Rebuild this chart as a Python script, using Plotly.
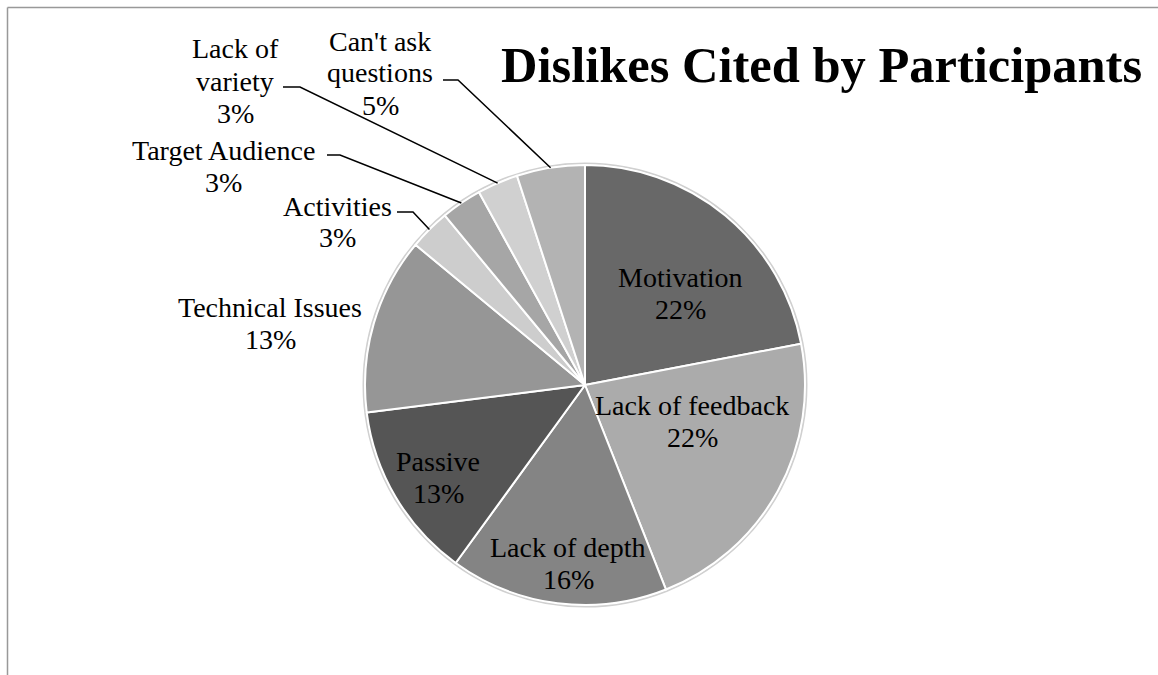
import math
import plotly.graph_objects as go

# ---- data ----
categories = ["Motivation", "Lack of feedback", "Lack of depth", "Passive",
              "Technical Issues", "Activities", "Target Audience",
              "Lack of variety", "Can't ask questions"]
values = [22, 22, 16, 13, 13, 3, 3, 3, 5]
colors = ["#686868", "#ababab", "#848484", "#555555", "#969696",
          "#cdcdcd", "#a6a6a6", "#d0d0d0", "#b3b3b3"]
wrapped = {"Lack of variety": ["Lack of", "variety"],
           "Can't ask questions": ["Can't ask", "questions"]}

W, H = 1158, 675
FONT = "Liberation Serif"
LABEL_SIZE = 28
LINE_GAP = 32

# pie geometry (pixels)
CX, CY, R = 585, 385, 220

def px2paper(x, y):
    return x / W, 1 - y / H

total = sum(values)

fig = go.Figure(go.Pie(
    labels=categories, values=values, sort=False, direction="clockwise",
    rotation=0,
    marker=dict(colors=colors, line=dict(color="white", width=2)),
    textinfo="none",
    hoverinfo="label+percent", showlegend=False,
    domain=dict(x=[(CX - R) / W, (CX + R) / W],
                y=[1 - (CY + R) / H, 1 - (CY - R) / H]),
))

# label layout (pixel positions of label block centre and optional leader elbow)
label_pos = {
    "Motivation": dict(tx=680, ty=293, elbow=None),
    "Lack of feedback": dict(tx=692, ty=421, elbow=None),
    "Lack of depth": dict(tx=568, ty=563, elbow=None),
    "Passive": dict(tx=438, ty=477, elbow=None),
    "Technical Issues": dict(tx=270, ty=323, elbow=None),
    "Activities": dict(tx=337, ty=222, elbow=(397, 413, 212)),
    "Target Audience": dict(tx=223, ty=166, elbow=(327, 340, 155)),
    "Lack of variety": dict(tx=235, ty=81, elbow=(283, 300, 87)),
    "Can't ask questions": dict(tx=380, ty=73, elbow=(443, 458, 80)),
}

annotations = []
shapes = []
cum = 0
for cat, v in zip(categories, values):
    mid = (cum + v / 2) / total * 2 * math.pi
    cum += v
    p = label_pos[cat]
    lines = wrapped.get(cat, [cat]) + [f"{v / total:.0%}"]
    n = len(lines)
    for i, line in enumerate(lines):
        ly = p["ty"] + (i - (n - 1) / 2) * LINE_GAP
        ax, ay = px2paper(p["tx"], ly)
        annotations.append(dict(x=ax, y=ay, xref="paper", yref="paper",
                                text=line, showarrow=False,
                                font=dict(family=FONT, size=LABEL_SIZE, color="black"),
                                xanchor="center", yanchor="middle"))
    if p["elbow"]:
        ex = CX + R * math.sin(mid)
        ey = CY - R * math.cos(mid)
        x0, x1, yy = p["elbow"]
        pts = [px2paper(x0, yy), px2paper(x1, yy), px2paper(ex, ey)]
        path = "M {} {} L {} {} L {} {}".format(*[c for pt in pts for c in pt])
        shapes.append(dict(type="path", path=path, xref="paper", yref="paper",
                           line=dict(color="black", width=1.5)))

# faint halo around pie
hx0, hy0 = px2paper(CX - R - 1.5, CY + R + 1.5)
hx1, hy1 = px2paper(CX + R + 1.5, CY - R - 1.5)
shapes.insert(0, dict(type="circle", xref="paper", yref="paper",
                      x0=hx0, y0=hy0, x1=hx1, y1=hy1,
                      line=dict(color="#d0d0d0", width=2), layer="below"))

# chart frame (top and left edges)
fx, fy = px2paper(7.5, 7.5)
shapes.append(dict(type="line", xref="paper", yref="paper",
                   x0=fx, y0=fy, x1=1, y1=fy, line=dict(color="#999999", width=1.5)))
shapes.append(dict(type="line", xref="paper", yref="paper",
                   x0=fx, y0=fy, x1=fx, y1=0, line=dict(color="#999999", width=1.5)))

# title
tx, ty = px2paper(821, 65)
annotations.append(dict(x=tx, y=ty, xref="paper", yref="paper",
                        text="<b>Dislikes Cited by Participants</b>",
                        showarrow=False, xanchor="center", yanchor="middle",
                        font=dict(family=FONT, size=50.5, color="black")))

fig.update_layout(
    width=W, height=H, margin=dict(l=0, r=0, t=0, b=0),
    paper_bgcolor="white", plot_bgcolor="white",
    annotations=annotations, shapes=shapes,
)

fig.write_html("out.html", config={"displayModeBar": False},
               post_script="document.body.style.margin='0';document.body.style.overflow='hidden';")
